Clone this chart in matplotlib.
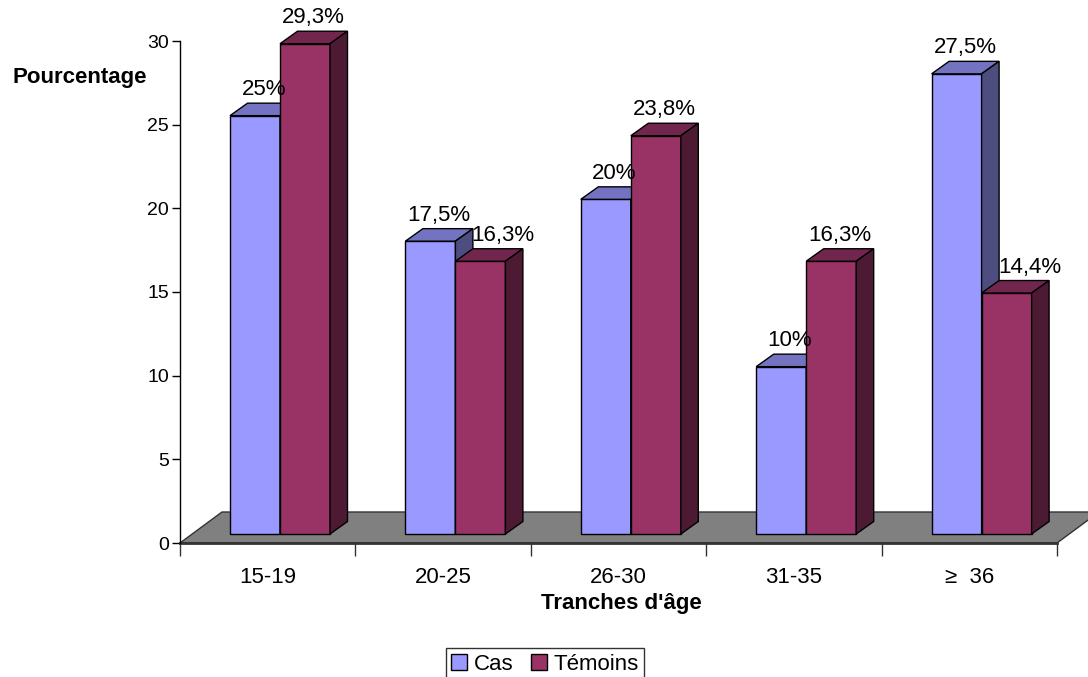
import numpy as np
import matplotlib
matplotlib.use("Agg")
import matplotlib.pyplot as plt
from matplotlib.patches import Polygon, Patch

plt.rcParams['font.family'] = ['Liberation Sans', 'DejaVu Sans']

# data
categories = ['15-19', '20-25', '26-30', '31-35', '\u2265  36']
cas = [25, 17.5, 20, 10, 27.5]
temoins = [29.3, 16.3, 23.8, 16.3, 14.4]
cas_labels = ['25%', '17,5%', '20%', '10%', '27,5%']
temoins_labels = ['29,3%', '16,3%', '23,8%', '16,3%', '14,4%']

# colours (front, top, side)
cas_cols = ('#9999FF', '#7373C2', '#4D4D80')
tem_cols = ('#993366', '#73264D', '#4D1A33')

W, H = 1088, 677
fig = plt.figure(figsize=(W / 100, H / 100), dpi=100)
x0, x1, y0, y1 = 180, 1057, 543, 41
ax = fig.add_axes([x0 / W, (H - y0) / H, (x1 - x0) / W, (y0 - y1) / H])
ax.set_xlim(0, 5)
ax.set_ylim(0, 30)

px_x = (x1 - x0) / 5.0      # pixels per x unit
px_y = (y0 - y1) / 30.0     # pixels per y unit

# floor
fdx, fdy = 42 / px_x, 31 / px_y
floor = Polygon([(0, 0), (5, 0), (5 + fdx, fdy), (fdx, fdy)], closed=True,
                facecolor='#808080', edgecolor='#333333', lw=1, clip_on=False, zorder=1)
ax.add_patch(floor)

# bar geometry
base_dx, base_dy = 12.3 / px_x, 9 / px_y
bw = 50 / px_x
ddx, ddy = 17.5 / px_x, 12.5 / px_y


def bar3d(xl, val, cols):
    xr = xl + bw
    yb = base_dy
    yt = base_dy + val
    front = [(xl, yb), (xr, yb), (xr, yt), (xl, yt)]
    top = [(xl, yt), (xr, yt), (xr + ddx, yt + ddy), (xl + ddx, yt + ddy)]
    side = [(xr, yb), (xr + ddx, yb + ddy), (xr + ddx, yt + ddy), (xr, yt)]
    for pts, c in ((front, cols[0]), (top, cols[1]), (side, cols[2])):
        ax.add_patch(Polygon(pts, closed=True, facecolor=c, edgecolor='black',
                             lw=1, clip_on=False, zorder=3))
    return (xl + xr) / 2 + ddx / 2, yt + ddy


for i in range(len(categories)):
    c = i + 0.5 + base_dx
    xc, yc = bar3d(c - bw, cas[i], cas_cols)
    ax.text(xc, yc + 3 / px_y, cas_labels[i], ha='center', va='bottom',
            fontsize=16, zorder=5)
    xt, yt = bar3d(c, temoins[i], tem_cols)
    shift = 14 / px_x if cas[i] > temoins[i] else 0
    ax.text(xt + shift, yt + 3 / px_y, temoins_labels[i], ha='center', va='bottom',
            fontsize=16, zorder=5)

# axes styling
for s in ['top', 'right']:
    ax.spines[s].set_visible(False)
ax.spines['left'].set_linewidth(1)
ax.spines['bottom'].set_linewidth(2)
ax.spines['bottom'].set_color('#333333')
ax.spines['bottom'].set_zorder(2)

ax.set_yticks(np.arange(0, 31, 5))
ax.tick_params(axis='y', length=6, width=1, pad=2, labelsize=14)
ax.set_xticks(np.arange(0, 6))
ax.set_xticklabels([])
ax.tick_params(axis='x', which='major', length=9, width=1, color='#333333')
ax.set_xticks(np.arange(len(categories)) + 0.5, minor=True)
ax.set_xticklabels(categories, minor=True, fontsize=16)
ax.tick_params(axis='x', which='minor', length=0, pad=17)
ax.patch.set_visible(False)

fig.text(147 / W, 1 - 77 / H, 'Pourcentage', ha='right', va='center',
         fontsize=16, fontweight='bold')
fig.text(621 / W, 1 - 603 / H, "Tranches d'âge", ha='center', va='center',
         fontsize=16, fontweight='bold')

handles = [Patch(facecolor=cas_cols[0], edgecolor='black', label='Cas'),
           Patch(facecolor=tem_cols[0], edgecolor='black', label='Témoins')]
leg = fig.legend(handles=handles, loc='upper center', bbox_to_anchor=(545 / W, 1 - 648 / H),
                 ncol=2, fontsize=16, frameon=True, fancybox=False,
                 handlelength=0.7, handleheight=0.7, handletextpad=0.3,
                 columnspacing=0.8, borderpad=0.25, borderaxespad=0)
leg.get_frame().set_edgecolor('black')
leg.get_frame().set_linewidth(1)

fig.savefig('out.png', dpi=100)
